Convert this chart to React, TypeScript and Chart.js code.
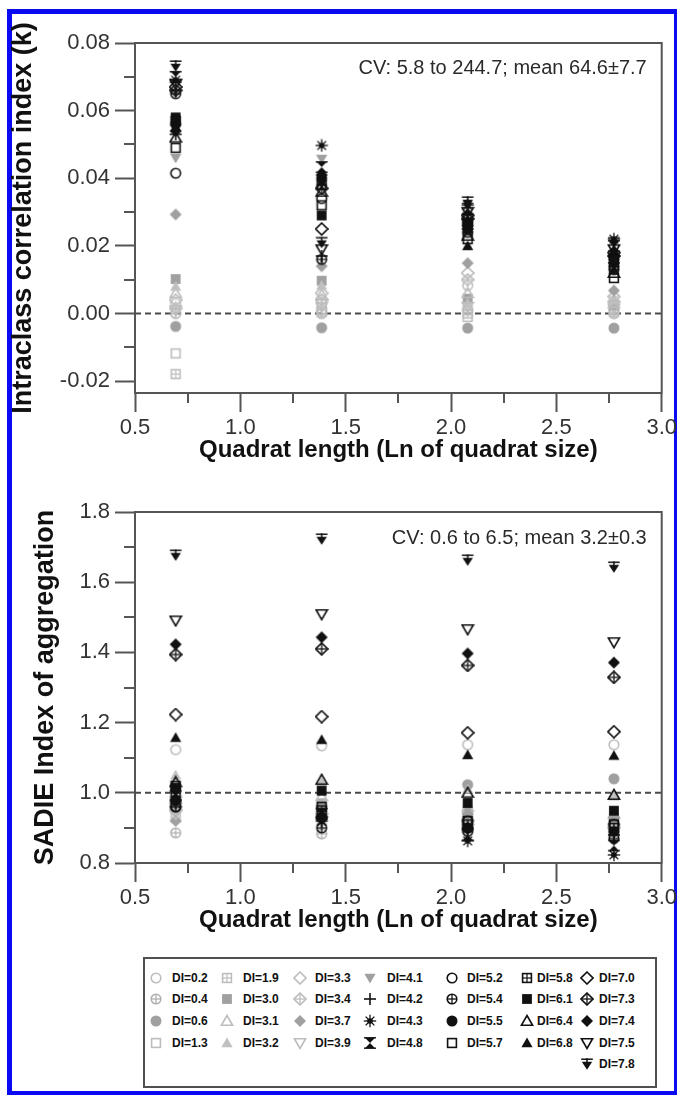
import React, { useEffect, useMemo, useRef } from 'react';
import { Chart, registerables } from 'chart.js';

Chart.register(...registerables);

const FONT = '"Liberation Sans", Arial, Helvetica, sans-serif';

// ---------------- data ----------------
const QUADRAT_LN = [0.693, 1.386, 2.079, 2.773];

const DI_LABELS = [
  'DI=0.2', 'DI=0.4', 'DI=0.6', 'DI=1.3', 'DI=1.9', 'DI=3.0', 'DI=3.1', 'DI=3.2',
  'DI=3.3', 'DI=3.4', 'DI=3.7', 'DI=3.9', 'DI=4.1', 'DI=4.2', 'DI=4.3', 'DI=4.8',
  'DI=5.2', 'DI=5.4', 'DI=5.5', 'DI=5.7', 'DI=5.8', 'DI=6.1', 'DI=6.4', 'DI=6.8',
  'DI=7.0', 'DI=7.3', 'DI=7.4', 'DI=7.5', 'DI=7.8',
];

// intraclass correlation index (k), one row per DI series, one value per quadrat length
const KAPPA_VALUES = [
  [0.003, 0.001, 0.0083, 0.001],
  [0.0, 0.0, 0.001, 0.0],
  [-0.0038, -0.0042, -0.0043, -0.0043],
  [-0.0118, 0.0005, -0.001, 0.0005],
  [-0.0179, 0.003, 0.0, 0.0015],
  [0.0102, 0.0097, 0.0044, 0.0025],
  [0.006, 0.0055, 0.006, 0.003],
  [0.008, 0.0083, 0.003, 0.004],
  [0.004, 0.006, 0.012, 0.0035],
  [0.0015, 0.004, 0.01, 0.005],
  [0.0293, 0.014, 0.0149, 0.0068],
  [0.001, 0.002, 0.002, 0.0015],
  [0.046, 0.0457, 0.027, 0.016],
  [0.053, 0.017, 0.025, 0.015],
  [0.069, 0.0497, 0.032, 0.022],
  [0.07, 0.0433, 0.031, 0.02],
  [0.0415, 0.034, 0.024, 0.014],
  [0.065, 0.016, 0.026, 0.013],
  [0.056, 0.04, 0.027, 0.017],
  [0.049, 0.032, 0.022, 0.0105],
  [0.057, 0.038, 0.028, 0.016],
  [0.058, 0.029, 0.025, 0.015],
  [0.052, 0.036, 0.023, 0.012],
  [0.055, 0.039, 0.02, 0.013],
  [0.067, 0.025, 0.029, 0.018],
  [0.066, 0.037, 0.028, 0.017],
  [0.054, 0.041, 0.026, 0.016],
  [0.068, 0.019, 0.03, 0.019],
  [0.0732, 0.021, 0.033, 0.021],
];

// SADIE index of aggregation, one row per DI series
const SADIE_VALUES = [
  [1.123, 1.134, 1.137, 1.137],
  [0.886, 0.883, 0.89, 0.88],
  [0.95, 0.94, 1.023, 1.04],
  [0.97, 0.95, 0.93, 0.92],
  [0.93, 0.92, 0.9, 0.9],
  [1.01, 0.97, 0.95, 0.93],
  [1.0, 0.99, 0.96, 0.94],
  [1.05, 1.03, 1.01, 0.99],
  [0.96, 0.94, 0.92, 0.91],
  [0.95, 0.93, 0.91, 0.9],
  [0.92, 0.96, 0.94, 0.93],
  [0.94, 0.92, 0.91, 0.89],
  [0.97, 0.95, 0.93, 0.92],
  [0.98, 0.93, 0.9, 0.88],
  [0.97, 0.92, 0.863, 0.823],
  [0.99, 0.94, 0.88, 0.85],
  [0.96, 0.93, 0.92, 0.91],
  [0.96, 0.9, 0.89, 0.87],
  [0.98, 0.93, 0.9, 0.89],
  [1.02, 0.96, 0.92, 0.91],
  [1.0, 0.95, 0.91, 0.9],
  [1.015, 1.006, 0.971, 0.949],
  [1.03, 1.037, 1.0, 0.994],
  [1.157, 1.151, 1.108, 1.106],
  [1.223, 1.217, 1.171, 1.174],
  [1.394, 1.41, 1.363, 1.329],
  [1.423, 1.443, 1.397, 1.371],
  [1.491, 1.509, 1.466, 1.429],
  [1.677, 1.723, 1.663, 1.643],
];

const X_TICKS = [0.5, 1.0, 1.5, 2.0, 2.5, 3.0];
const X_MINOR = [0.75, 1.25, 1.75, 2.25, 2.75];
const K_TICKS = [-0.02, 0.0, 0.02, 0.04, 0.06, 0.08];
const K_MINOR = [-0.01, 0.01, 0.03, 0.05, 0.07];
const SADIE_TICKS = [0.8, 1.0, 1.2, 1.4, 1.6, 1.8];
const SADIE_MINOR = [0.9, 1.1, 1.3, 1.5, 1.7];
const K_REFERENCE = 0;
const SADIE_REFERENCE = 1;
const K_CV_TEXT = 'CV: 5.8 to 244.7; mean 64.6\u00b17.7';
const SADIE_CV_TEXT = 'CV: 0.6 to 6.5; mean 3.2\u00b10.3';

// ---------------- marker styles ----------------
const MARKER_SHAPES = [
  'circle', 'circlePlus', 'circleFill', 'square', 'squareGrid', 'squareFill', 'tri', 'triFill',
  'diamond', 'diamondPlus', 'diamondFill', 'triDown', 'triDownFill', 'plus', 'asterisk', 'hourglass',
  'circle', 'circlePlus', 'circleFill', 'square', 'squareGrid', 'squareFill', 'tri', 'triFill',
  'diamond', 'diamondPlus', 'diamondFill', 'triDown', 'triDownBar',
];
const LIGHT = '#bdbdbd';
const MID = '#a0a0a0';
const DARK = '#111111';
const MARKER_COLORS = [
  LIGHT, '#b0b0b0', MID, LIGHT, LIGHT, MID, LIGHT, '#c0c0c0',
  LIGHT, LIGHT, MID, LIGHT, MID, DARK, DARK, DARK,
  DARK, DARK, DARK, DARK, DARK, DARK, DARK, DARK,
  DARK, DARK, DARK, DARK, DARK,
];

function makeMarker(shape: string, color: string): HTMLCanvasElement {
  const S = 14;
  const cv = document.createElement('canvas');
  cv.width = S;
  cv.height = S;
  const ctx = cv.getContext('2d')!;
  const c = 7;
  ctx.strokeStyle = color;
  ctx.fillStyle = color;
  ctx.lineWidth = 1.6;
  const poly = (pts: number[][]) => {
    ctx.beginPath();
    ctx.moveTo(pts[0][0], pts[0][1]);
    for (let i = 1; i < pts.length; i++) ctx.lineTo(pts[i][0], pts[i][1]);
    ctx.closePath();
  };
  const line = (x1: number, y1: number, x2: number, y2: number) => {
    ctx.beginPath();
    ctx.moveTo(x1, y1);
    ctx.lineTo(x2, y2);
    ctx.stroke();
  };
  const circ = (r: number) => {
    ctx.beginPath();
    ctx.arc(c, c, r, 0, Math.PI * 2);
  };
  const up = [[7, 1.5], [12.6, 11.3], [1.4, 11.3]];
  const down = [[1.4, 2.7], [12.6, 2.7], [7, 12.5]];
  const dia = [[7, 1.0], [13, 7], [7, 13], [1.0, 7]];
  switch (shape) {
    case 'circle': circ(4.8); ctx.stroke(); break;
    case 'circlePlus': circ(4.8); ctx.stroke(); ctx.lineWidth = 1.3; line(7, 2.2, 7, 11.8); line(2.2, 7, 11.8, 7); break;
    case 'circleFill': circ(5.5); ctx.fill(); break;
    case 'square': ctx.strokeRect(2.6, 2.6, 8.8, 8.8); break;
    case 'squareGrid': ctx.strokeRect(2.6, 2.6, 8.8, 8.8); ctx.lineWidth = 1.2; line(7, 2.6, 7, 11.4); line(2.6, 7, 11.4, 7); break;
    case 'squareFill': ctx.fillRect(2.1, 2.1, 9.8, 9.8); break;
    case 'tri': poly(up); ctx.stroke(); break;
    case 'triFill': poly(up); ctx.fill(); break;
    case 'diamond': poly(dia); ctx.stroke(); break;
    case 'diamondPlus': poly(dia); ctx.stroke(); ctx.lineWidth = 1.3; line(7, 1.0, 7, 13); line(1.0, 7, 13, 7); break;
    case 'diamondFill': poly(dia); ctx.fill(); break;
    case 'triDown': poly(down); ctx.stroke(); break;
    case 'triDownFill': poly(down); ctx.fill(); break;
    case 'triDownBar':
      poly([[1.8, 4.8], [12.2, 4.8], [7, 12.8]]); ctx.fill();
      ctx.lineWidth = 1.5; line(1.2, 2.2, 12.8, 2.2); line(7, 1.2, 7, 5);
      break;
    case 'plus': ctx.lineWidth = 1.6; line(7, 1, 7, 13); line(1, 7, 13, 7); break;
    case 'asterisk': {
      ctx.lineWidth = 1.3;
      for (let k = 0; k < 8; k++) {
        const a = (k * Math.PI) / 4;
        line(c, c, c + Math.cos(a) * 6.2, c + Math.sin(a) * 6.2);
      }
      circ(2.8); ctx.fill();
      break;
    }
    case 'hourglass':
      poly([[2, 1.8], [12, 1.8], [7, 7]]); ctx.fill();
      poly([[2, 12.2], [12, 12.2], [7, 7]]); ctx.fill();
      ctx.lineWidth = 1.4; line(1, 1.8, 13, 1.8); line(1, 12.2, 13, 12.2);
      break;
    default: circ(4.8); ctx.stroke();
  }
  return cv;
}

// ---------------- chart plugin ----------------
const decorPlugin = {
  id: 'decor',
  afterDraw(chart: any, _args: any, opts: any) {
    const { ctx, chartArea } = chart;
    const xs = chart.scales.x;
    const ys = chart.scales.y;
    ctx.save();
    ctx.strokeStyle = '#555555';
    ctx.lineWidth = 2;
    // frame top and right
    ctx.beginPath();
    ctx.moveTo(chartArea.left - 1, chartArea.top);
    ctx.lineTo(chartArea.right, chartArea.top);
    ctx.lineTo(chartArea.right, chartArea.bottom + 1);
    ctx.stroke();
    // minor ticks
    ctx.beginPath();
    (opts.xMinor || []).forEach((v: number) => {
      const px = Math.round(xs.getPixelForValue(v));
      ctx.moveTo(px, chartArea.bottom);
      ctx.lineTo(px, chartArea.bottom + 10);
    });
    (opts.yMinor || []).forEach((v: number) => {
      const py = Math.round(ys.getPixelForValue(v));
      ctx.moveTo(chartArea.left, py);
      ctx.lineTo(chartArea.left - 11, py);
    });
    ctx.stroke();
    // CV note
    ctx.fillStyle = '#2a2a2a';
    ctx.font = `20px ${FONT}`;
    ctx.textAlign = 'right';
    ctx.textBaseline = 'middle';
    ctx.fillText(opts.note, chartArea.right - 15, chartArea.top + opts.noteDy);
    ctx.restore();
  },
};

type PanelProps = {
  top: number;
  values: number[][];
  yTicks: number[];
  yMinor: number[];
  yMin: number;
  yMax: number;
  yDigits: number;
  yTitle: string;
  yTitlePad: number;
  reference: number;
  note: string;
  noteDy: number;
  padTop: number;
  markers: HTMLCanvasElement[];
};

function Panel(p: PanelProps) {
  const ref = useRef<HTMLCanvasElement | null>(null);
  useEffect(() => {
    const datasets: any[] = [
      {
        label: 'reference',
        data: [{ x: X_TICKS[0], y: p.reference }, { x: X_TICKS[X_TICKS.length - 1], y: p.reference }],
        showLine: true,
        borderColor: '#4a4a4a',
        borderWidth: 2,
        borderDash: [6, 4],
        pointRadius: 0,
        order: 100,
      },
    ];
    DI_LABELS.forEach((label, i) => {
      datasets.push({
        label,
        data: QUADRAT_LN.map((x, j) => ({ x, y: p.values[i][j] })),
        pointStyle: p.markers[i],
        pointRadius: 6,
        pointHoverRadius: 6,
        showLine: false,
        order: DI_LABELS.length - i,
      });
    });
    const tickFont = { family: FONT, size: 22 };
    const chart = new Chart(ref.current!, {
      type: 'scatter',
      data: { datasets },
      plugins: [decorPlugin as any],
      options: {
        animation: false,
        responsive: false,
        events: [],
        layout: { padding: { left: 0, right: 17, top: p.padTop, bottom: 0 } },
        plugins: {
          legend: { display: false },
          tooltip: { enabled: false },
          decor: { xMinor: X_MINOR, yMinor: p.yMinor, note: p.note, noteDy: p.noteDy },
        } as any,
        scales: {
          x: {
            type: 'linear',
            min: X_TICKS[0],
            max: X_TICKS[X_TICKS.length - 1],
            afterBuildTicks: (s: any) => { s.ticks = X_TICKS.map((v) => ({ value: v })); },
            afterFit: (s: any) => { s.height = 77; },
            grid: { drawOnChartArea: false, drawTicks: true, tickLength: 19, tickWidth: 2, tickColor: '#555555' },
            border: { display: true, color: '#555555', width: 2 },
            ticks: {
              font: tickFont,
              color: '#333333',
              padding: 3,
              maxRotation: 0,
              autoSkip: false,
              callback: (v: any) => Number(v).toFixed(1),
            },
            title: {
              display: true,
              text: 'Quadrat length (Ln of quadrat size)',
              font: { family: FONT, size: 24, weight: 'bold' },
              color: '#111111',
              padding: { top: 0, bottom: 5 },
            },
          },
          y: {
            type: 'linear',
            min: p.yMin,
            max: p.yMax,
            afterBuildTicks: (s: any) => { s.ticks = p.yTicks.map((v) => ({ value: v })); },
            afterFit: (s: any) => { s.width = 135; },
            grid: { drawOnChartArea: false, drawTicks: true, tickLength: 20, tickWidth: 2, tickColor: '#555555' },
            border: { display: true, color: '#555555', width: 2 },
            ticks: {
              font: tickFont,
              color: '#333333',
              padding: 5,
              autoSkip: false,
              callback: (v: any) => Number(v).toFixed(p.yDigits),
            },
            title: {
              display: true,
              text: p.yTitle,
              font: { family: FONT, size: 27, weight: 'bold' },
              color: '#111111',
              padding: { top: p.yTitlePad, bottom: 0 },
            },
          },
        },
      } as any,
    });
    return () => chart.destroy();
  }, []);
  return (
    <canvas
      ref={ref}
      width={680}
      height={470}
      style={{ position: 'absolute', left: 0, top: p.top, width: 680, height: 470 }}
    />
  );
}

const LEGEND_MARKER_X = [156, 227, 300, 370, 452, 527, 587];
const LEGEND_TEXT_X = [172, 243, 315, 387, 467, 537, 599];
const LEGEND_ROW_Y = [978, 999, 1021, 1043, 1064];

export default function App() {
  const markers = useMemo(() => MARKER_SHAPES.map((s, i) => makeMarker(s, MARKER_COLORS[i])), []);
  const markerUrls = useMemo(() => markers.map((m) => m.toDataURL()), [markers]);

  return (
    <div style={{ position: 'absolute', left: 0, top: 0, width: 680, height: 1095, background: '#ffffff', overflow: 'hidden', fontFamily: FONT }}>
      <div
        style={{
          position: 'absolute', left: 7, top: 9, width: 670, height: 1086, boxSizing: 'border-box',
          borderStyle: 'solid', borderColor: '#0a0af2', borderWidth: '5px 3px 4px 5px', background: '#ffffff',
        }}
      />
      <Panel
        top={0}
        values={KAPPA_VALUES}
        yTicks={K_TICKS}
        yMinor={K_MINOR}
        yMin={-0.0235}
        yMax={0.08}
        yDigits={2}
        yTitle="Intraclass correlation index (k)"
        yTitlePad={7}
        reference={K_REFERENCE}
        note={K_CV_TEXT}
        noteDy={25}
        padTop={43}
        markers={markers}
      />
      <Panel
        top={470}
        values={SADIE_VALUES}
        yTicks={SADIE_TICKS}
        yMinor={SADIE_MINOR}
        yMin={0.8}
        yMax={1.8}
        yDigits={1}
        yTitle="SADIE Index of aggregation"
        yTitlePad={29}
        reference={SADIE_REFERENCE}
        note={SADIE_CV_TEXT}
        noteDy={26}
        padTop={42}
        markers={markers}
      />
      <div
        style={{
          position: 'absolute', left: 143, top: 957, width: 514, height: 131, boxSizing: 'border-box',
          border: '2px solid #505050', background: '#ffffff',
        }}
      />
      {DI_LABELS.map((label, i) => {
        const col = Math.min(Math.floor(i / 4), 6);
        const row = i - col * 4;
        const cy = LEGEND_ROW_Y[row];
        return (
          <React.Fragment key={label}>
            <img
              src={markerUrls[i]}
              width={14}
              height={14}
              style={{ position: 'absolute', left: LEGEND_MARKER_X[col] - 7, top: cy - 7 }}
            />
            <div
              style={{
                position: 'absolute', left: LEGEND_TEXT_X[col], top: cy - 8, height: 16, lineHeight: '16px',
                fontSize: 12, fontWeight: 'bold', color: '#111111', whiteSpace: 'nowrap',
              }}
            >
              {label}
            </div>
          </React.Fragment>
        );
      })}
    </div>
  );
}
